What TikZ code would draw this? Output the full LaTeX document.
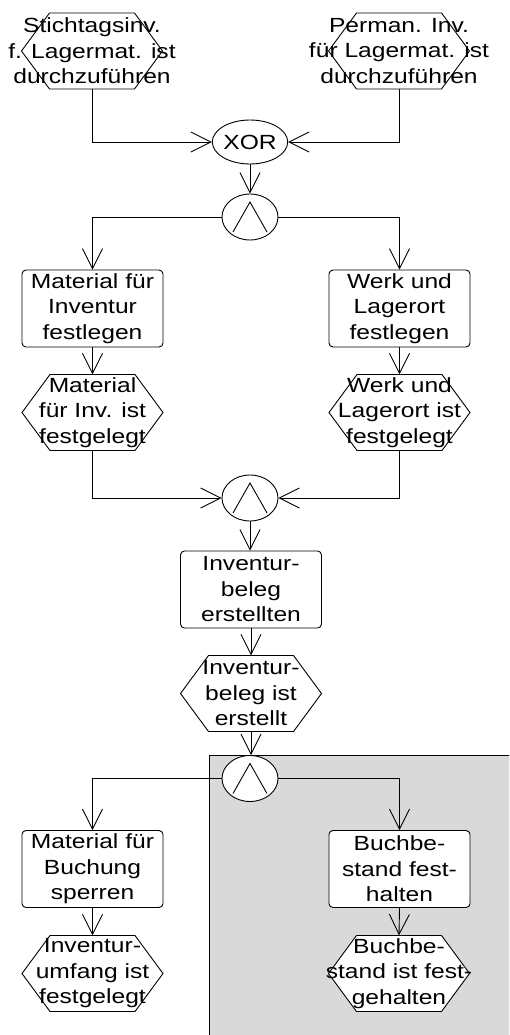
\documentclass[tikz,border=0pt]{standalone}
\usepackage{fontspec}
\setmainfont[FakeStretch=1.2]{Liberation Sans}
\usetikzlibrary{shapes.geometric,arrows.meta,calc}
\definecolor{lanegray}{RGB}{217,217,217}
\tikzset{
  lw/.style={line width=0.9pt},
  arr/.style={lw,-{Straight Barb[length=20pt,width=20pt,line width=0.9pt]}},
  txt/.style={font=\fontsize{20.5}{25.5}\selectfont, align=center, inner sep=0pt},
  evshape/.style={lw, draw=black, fill=white},
  evnode/.style={txt, minimum width=141pt, minimum height=76pt},
  fnbox/.style={txt, lw, draw=black, fill=white, rectangle, rounded corners=4pt,
    minimum width=141pt, minimum height=77pt},
  conn/.style={lw, draw=black, fill=white, ellipse, inner sep=0pt,
    minimum width=56pt, minimum height=46pt},
  andsym/.style={conn, path picture={
    \draw[lw] ($(path picture bounding box.center)+(-17,15)$) -- ++(17,-30) -- ++(17,30);}},
  xorsym/.style={conn, minimum height=44pt, font=\fontsize{20.5}{24}\selectfont}
}
\newcommand{\eventnode}[3]{%
  \draw[evshape] ($(#2)+(-70.5,0)$) -- ++(28,-38) -- ++(85,0) -- ++(28,38)
     -- ++(-28,38) -- ++(-85,0) -- cycle;
  \node[evnode] (#1) at (#2) {#3};}
\begin{document}
\begin{tikzpicture}[x=1pt,y=-1pt]
\useasboundingbox (0,0) rectangle (509,1035);
\clip (0,0) rectangle (509,1035);
\fill[lanegray] (209,755) rectangle (530,1050);
\draw[lw] (209,1050) -- (209,755) -- (530,755);

\eventnode{e1}{92,51}{Stichtagsinv.\\ f. Lagermat. ist\\ durchzuführen}
\eventnode{e2}{399,51}{Perman. Inv.\\ für Lagermat. ist\\ durchzuführen}
\node[xorsym] (xor) at (250,142) {XOR};
\node[andsym] (and1) at (250,217) {};
\node[fnbox] (f1) at (92.5,308.5) {Material für\\ Inventur\\ festlegen};
\node[fnbox] (f2) at (399.5,308.5) {Werk und\\ Lagerort\\ festlegen};
\eventnode{e3}{92.5,412.5}{Material\\ für Inv. ist\\ festgelegt}
\eventnode{e4}{399.5,412.5}{Werk und\\ Lagerort ist\\ festgelegt}
\node[andsym] (and2) at (250,498) {};
\node[fnbox] (f3) at (251,589.5) {Inventur-\\ beleg\\ erstellten};
\eventnode{e5}{251,693.5}{Inventur-\\ beleg ist\\ erstellt}
\node[andsym] (and3) at (250,778.5) {};
\node[fnbox] (f4) at (92.5,869) {Material für\\ Buchung\\ sperren};
\node[fnbox] (f5) at (399.5,869) {Buchbe-\\ stand fest-\\ halten};
\eventnode{e6}{92.5,973.5}{Inventur-\\ umfang ist\\ festgelegt}
\eventnode{e7}{399,973.5}{Buchbe-\\ stand ist fest-\\ gehalten}

\draw[arr] (e1.south) |- (xor.west);
\draw[arr] (e2.south) |- (xor.east);
\draw[arr] (xor.south) -- (and1.north);
\draw[arr] (and1.west) -| (f1.north);
\draw[arr] (and1.east) -| (f2.north);
\draw[arr] (f1.south) -- (e3.north);
\draw[arr] (f2.south) -- (e4.north);
\draw[arr] (e3.south) |- (and2.west);
\draw[arr] (e4.south) |- (and2.east);
\draw[arr] (and2.south) -- (and2.south |- f3.north);
\draw[arr] (f3.south) -- (e5.north);
\draw[arr] (e5.south) -- (e5.south |- and3.north);
\draw[arr] (and3.west) -| (f4.north);
\draw[arr] (and3.east) -| (f5.north);
\draw[arr] (f4.south) -- (e6.north);
\draw[arr] (f5.south) -- (e7.north);
\end{tikzpicture}
\end{document}
